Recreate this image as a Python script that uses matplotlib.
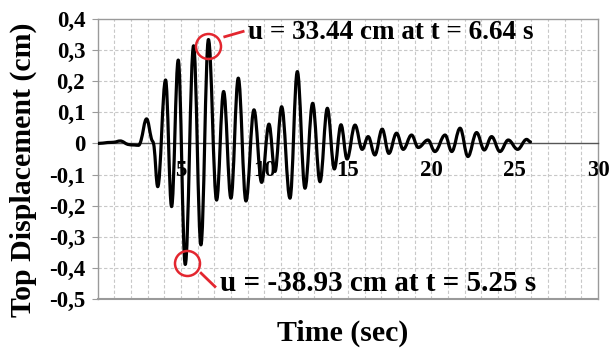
import numpy as np
import matplotlib
matplotlib.use("Agg")
import matplotlib.pyplot as plt
from matplotlib.path import Path
from matplotlib.patches import PathPatch

# ---- data (time in s, displacement) ----
time_s = [0.0, 0.6, 1.0, 1.35, 1.8, 2.2, 2.45, 2.6, 2.93, 3.22, 3.38, 3.6,
          4.07, 4.43, 4.83, 5.25, 5.75, 6.19, 6.64, 7.13, 7.55, 7.99, 8.43,
          8.89, 9.37, 9.83, 10.27, 10.63, 11.03, 11.53, 11.97, 12.43, 12.89,
          13.33, 13.77, 14.19, 14.59, 14.95, 15.43, 15.86, 16.22, 16.62,
          17.06, 17.46, 17.92, 18.32, 18.82, 19.22, 19.8, 20.22, 20.83,
          21.23, 21.73, 22.2, 22.72, 23.18, 23.62, 24.12, 24.62, 25.18,
          25.72, 25.95]
disp_cm = [0.0, 0.003, 0.004, 0.008, -0.003, -0.005, -0.006, 0.01, 0.079,
           0.015, -0.01, -0.139, 0.204, -0.203, 0.268, -0.389, 0.314, -0.326,
           0.334, -0.182, 0.167, -0.176, 0.21, -0.185, 0.108, -0.125, 0.062,
           -0.09, 0.118, -0.176, 0.231, -0.144, 0.129, -0.123, 0.113, -0.082,
           0.06, -0.05, 0.059, -0.019, 0.022, -0.037, 0.046, -0.032, 0.033,
           -0.019, 0.027, -0.013, 0.011, -0.026, 0.027, -0.026, 0.049,
           -0.042, 0.035, -0.021, 0.022, -0.026, 0.011, -0.019, 0.013, 0.005]

peak_max = (6.64, 0.3344)
peak_min = (5.25, -0.3893)
label_max = "u = 33.44 cm at t = 6.64 s"
label_min = "u = -38.93 cm at t = 5.25 s"

x_ticks = [5, 10, 15, 20, 25, 30]
x_tick_labels = ["5", "10", "15", "20", "25", "30"]
y_ticks = [0.4, 0.3, 0.2, 0.1, 0.0, -0.1, -0.2, -0.3, -0.4, -0.5]
y_tick_labels = ["0,4", "0,3", "0,2", "0,1", "0", "-0,1", "-0,2", "-0,3",
                 "-0,4", "-0,5"]

FONT = "Liberation Serif"
RED = "#e3262f"
GRID = "#c8c8c8"

fig = plt.figure(figsize=(6.11, 3.5), dpi=100)
W, H = 611, 350
ax = fig.add_axes([97.7 / W, 1 - 299 / H, (598 - 97.7) / W, 280 / H])
ax.set_xlim(0, 30)
ax.set_ylim(-0.5, 0.4)

# grid: every second and every 0.1
for xv in range(1, 30):
    ax.axvline(xv, color=GRID, linestyle=(0, (3, 2)), linewidth=0.8, zorder=1)
for yv in y_ticks:
    if -0.5 < yv < 0.4 and yv != 0.0:
        ax.axhline(yv, color=GRID, linestyle=(0, (3, 2)), linewidth=0.8,
                   zorder=1)

# smoothed line (Excel-like) through the read points
t = np.asarray(time_s)
u = np.asarray(disp_cm)
n = len(t)
m = np.zeros(n)
for i in range(1, n - 1):
    if (u[i] - u[i - 1]) * (u[i + 1] - u[i]) > 0:
        m[i] = (u[i + 1] - u[i - 1]) / (t[i + 1] - t[i - 1])
verts = [(t[0], u[0])]
codes = [Path.MOVETO]
for i in range(n - 1):
    dt = t[i + 1] - t[i]
    k0 = 0.38 if m[i] == 0 else 1 / 3
    k1 = 0.38 if m[i + 1] == 0 else 1 / 3
    verts += [(t[i] + k0 * dt, u[i] + m[i] * k0 * dt),
              (t[i + 1] - k1 * dt, u[i + 1] - m[i + 1] * k1 * dt),
              (t[i + 1], u[i + 1])]
    codes += [Path.CURVE4] * 3
ax.add_patch(PathPatch(Path(verts, codes), facecolor="none",
                       edgecolor="black", linewidth=2.3, zorder=3,
                       capstyle="round", joinstyle="round"))

# spines
for s in ["top", "right", "left"]:
    ax.spines[s].set_color("#9a9a9a")
    ax.spines[s].set_linewidth(1.0)
ax.spines["bottom"].set_position(("data", 0))
ax.spines["bottom"].set_color("#555555")
ax.spines["bottom"].set_linewidth(1.0)
ax.axhline(-0.5, color="#9a9a9a", linewidth=1.5, clip_on=False, zorder=2)

ax.set_xticks(x_ticks)
ax.set_xticklabels(x_tick_labels)
ax.set_yticks(y_ticks)
ax.set_yticklabels(y_tick_labels)
ax.tick_params(axis="x", which="both", length=0, pad=12)
ax.tick_params(axis="y", which="major", length=4, width=0.8, color="#9a9a9a",
               pad=5)
for lab in ax.get_xticklabels() + ax.get_yticklabels():
    lab.set_fontfamily(FONT)
    lab.set_fontweight("bold")
    lab.set_fontsize(16.5)

# annotations
ax.plot([peak_max[0]], [peak_max[1] - 0.02], marker="o", markersize=18,
        markerfacecolor="none", markeredgecolor=RED, markeredgewidth=1.8,
        zorder=4, clip_on=False)
ax.plot([peak_min[0] + 0.08], [peak_min[1] + 0.005], marker="o",
        markersize=18, markerfacecolor="none", markeredgecolor=RED,
        markeredgewidth=1.8, zorder=4, clip_on=False)
ax.plot([7.62, 8.72], [0.343, 0.36], color=RED, linewidth=2.0, zorder=4)
ax.plot([6.2, 7.03], [-0.417, -0.46], color=RED, linewidth=2.0, zorder=4,
        clip_on=False)
ax.text(9.0, 0.356, label_max, fontfamily=FONT, fontweight="bold",
        fontsize=19.5, va="center", ha="left", zorder=5)
ax.text(7.35, -0.449, label_min, fontfamily=FONT, fontweight="bold",
        fontsize=21, va="center", ha="left", zorder=5)

fig.text(23 / W, 1 - 170 / H, "Top Displacement (cm)", rotation=90,
         fontfamily=FONT, fontweight="bold", fontsize=21.5, ha="center",
         va="center")
fig.text(343 / W, 1 - 333 / H, "Time (sec)", fontfamily=FONT,
         fontweight="bold", fontsize=21.5, ha="center", va="center")

fig.savefig("out.png", dpi=100)
